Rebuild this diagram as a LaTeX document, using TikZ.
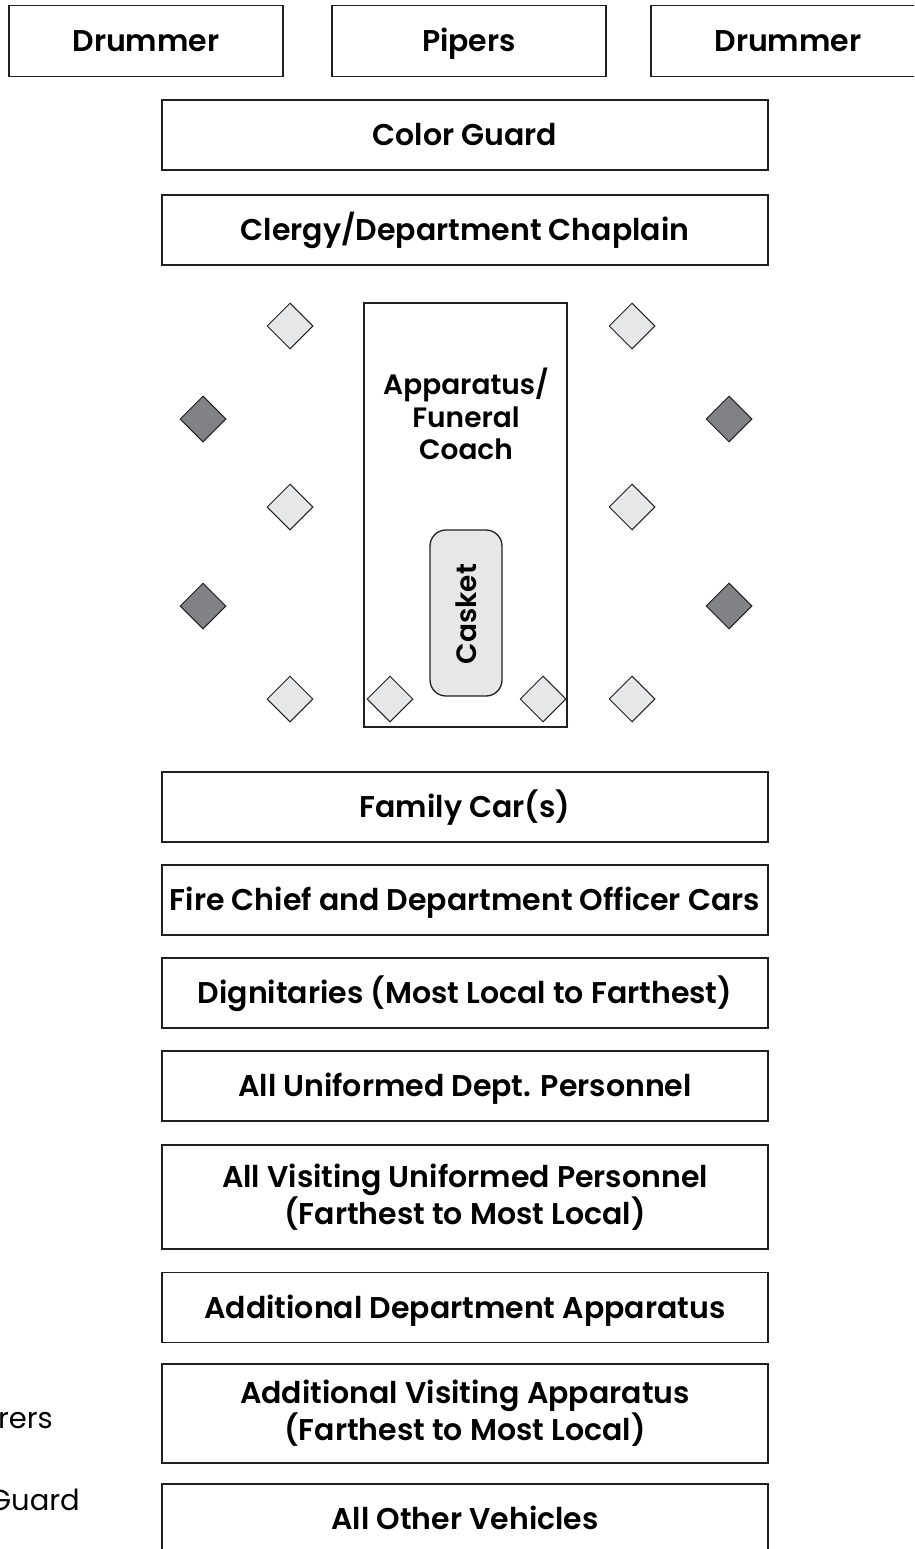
\documentclass[tikz,border=0pt]{standalone}
\usepackage{fontspec}
\setmainfont{Poppins}[BoldFont={* SemiBold}]
\usetikzlibrary{shapes.geometric}
\definecolor{edge}{HTML}{231F20}
\definecolor{lite}{HTML}{E6E7E8}
\definecolor{dark}{HTML}{808285}
\begin{document}
\begin{tikzpicture}[x=1pt,y=-1pt,
  box/.style={rectangle,draw=edge,line width=1.3pt,inner sep=0pt,align=center,
    minimum width=606pt,font=\bfseries\fontsize{30}{34}\selectfont},
  bx/.style={box,minimum height=70pt,text height=28pt,text depth=7pt},
  top/.style={bx,minimum width=274pt,minimum height=71pt},
  tall/.style={box,minimum height=#1pt},
  dm/.style={diamond,aspect=1,draw=edge,line width=1pt,inner sep=0pt,
    minimum width=46pt,minimum height=46pt,fill=#1},
  lg/.style={anchor=east,inner sep=0pt,font=\fontsize{29}{30}\selectfont}]
  \useasboundingbox (0,0) rectangle (914,1549);
  \clip (0,0) rectangle (914,1549);
  % band
  \node[top] (drumL) at (146,41) {Drummer};
  \node[top] (pipers) at (469,41) {Pipers};
  \node[top] (drumR) at (788,41) {Drummer};
  \node[bx] (guard) at (465,135) {Color Guard};
  \node[bx] (clergy) at (465,230) {Clergy/Department Chaplain};
  % coach
  \node[rectangle,draw=edge,line width=1.3pt,minimum width=203pt,minimum height=424pt] (coach) at (465.5,515) {};
  \node[align=center,font=\bfseries\fontsize{28}{32.5}\selectfont] (coachtxt) at (466,414) {Apparatus/\\Funeral\\Coach};
  \node[rectangle,rounded corners=16pt,draw=edge,line width=1.3pt,fill=lite,
    minimum width=72pt,minimum height=166pt] (casket) at (466,613) {};
  \node[rotate=90,font=\bfseries\fontsize{28}{30}\selectfont] (casktxt) at (466,614) {Casket};
  % bearers and honor guard
  \foreach \y [count=\i] in {326,507,699}{
    \node[dm=lite] (pl\i) at (290,\y) {};
    \node[dm=lite] (pr\i) at (632,\y) {};
  }
  \node[dm=lite] (pc1) at (390,699) {};
  \node[dm=lite] (pc2) at (543,699) {};
  \foreach \y [count=\i] in {419,606}{
    \node[dm=dark] (hl\i) at (203,\y) {};
    \node[dm=dark] (hr\i) at (729,\y) {};
  }
  % cars and personnel
  \node[bx] (family) at (465,807) {Family Car(s)};
  \node[bx] (chief) at (465,900) {Fire Chief and Department Officer Cars};
  \node[bx] (dign) at (465,993) {Dignitaries (Most Local to Farthest)};
  \node[bx] (unif) at (465,1086) {All Uniformed Dept. Personnel};
  \node[tall=104] (visit) at (465,1197) {All Visiting Uniformed Personnel\\(Farthest to Most Local)};
  \node[bx] (addept) at (465,1307.5) {Additional Department Apparatus};
  \node[tall=99] (advisit) at (465,1413.5) {Additional Visiting Apparatus\\(Farthest to Most Local)};
  \node[bx] (other) at (465,1519) {All Other Vehicles};
  % legend
  \node[lg] (lbear) at (53,1418) {Pallbearers};
  \node[lg] (lhonor) at (80,1500) {Honor Guard};
\end{tikzpicture}
\end{document}
